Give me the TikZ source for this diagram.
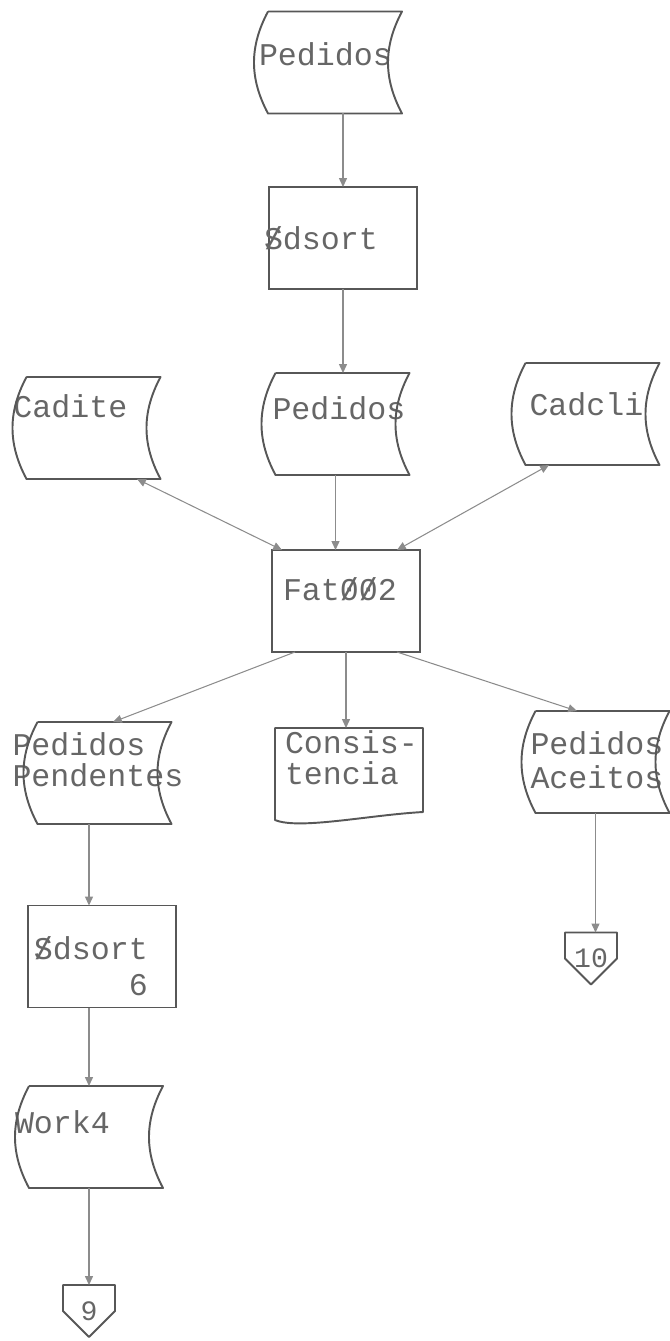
\documentclass[tikz,border=0pt]{standalone}
\usepackage{fontspec}
\newfontfamily\tw{Liberation Mono}
\usepackage{tikz}
\usetikzlibrary{arrows.meta,calc}

\definecolor{inkline}{HTML}{575757}
\definecolor{pencil}{HTML}{8C8C8C}
\definecolor{typed}{HTML}{666666}

% typed text, pushed to the upper left of a box
\newcommand{\inbox}[3][0.1cm]{\parbox[c][2.04cm][t]{2.96cm}{\raggedright\leftskip=#1\relax\hyphenpenalty=10000 \vspace*{#2}#3}}
\newcommand{\slS}{\leavevmode\rlap{/}S}
\newcommand{\slz}{\leavevmode\rlap{/}0}

\begin{document}
\begin{tikzpicture}[>={Triangle[length=5pt,width=4.5pt]},
  datafile/.style={minimum width=2.96cm,minimum height=2.04cm,inner sep=0pt,outer sep=0pt,
    text=typed,font=\tw\fontsize{18}{17.5}\selectfont},
  procbox/.style={datafile,draw=inkline,line width=1.1pt},
  report/.style={datafile},
  pageref/.style={datafile,minimum width=1.04cm,minimum height=1.04cm,font=\tw\fontsize{16}{16}\selectfont},
  edgeline/.style={draw=inkline,line width=1.1pt,line join=round},
  flowline/.style={color=pencil,line width=0.6pt,->},
  twoway/.style={flowline,<->}]

\useasboundingbox (0,0) rectangle (13.4,-26.82);

\node[datafile](ped1) at (6.56,-1.25) {\inbox{0.62cm}{Pedidos}};
\node[procbox](sdsort) at (6.86,-4.76) {\inbox[-0.1cm]{0.8cm}{\slS dsort}};
\node[datafile](cadite) at (1.73,-8.56) {\inbox[0.02cm]{0.36cm}{Cadite}};
\node[datafile](ped2) at (6.71,-8.48) {\inbox[0.22cm]{0.48cm}{Pedidos}};
\node[datafile](cadcli) at (11.71,-8.28) {\inbox[0.36cm]{0.6cm}{Cadcli}};
\node[procbox](fat) at (6.92,-12.02) {\inbox[0.22cm]{0.55cm}{Fat\slz\slz2}};
\node[datafile](pend) at (1.95,-15.46) {\inbox[-0.22cm]{0.22cm}{Pedidos\\Pendentes}};
\node[report](consis) at (6.98,-15.58) {\inbox[0.2cm]{0.06cm}{Consis-\\tencia}};
\node[datafile](aceit) at (11.91,-15.24) {\inbox[0.18cm]{0.42cm}{Pedidos\\[0.06cm]Aceitos}};
\node[procbox](sd6) at (2.04,-19.13) {\inbox[0.12cm]{0.62cm}{\slS dsort\\[0.1cm]\hspace*{3em}6}};
\node[datafile](work) at (1.78,-22.74) {\inbox[0cm]{0.5cm}{Work4}};
\node[pageref](c9) at (1.78,-26.22) {9};
\node[pageref](c10) at (11.82,-19.17) {10};

% file outlines
\foreach \n in {ped1,cadite,ped2,cadcli,pend,aceit,work}
  \draw[edgeline] ($(\n.north west)+(0.28,0)$) -- (\n.north east)
    to[bend right=28] (\n.south east) -- ($(\n.south west)+(0.28,0)$)
    to[bend left=28] ($(\n.north west)+(0.28,0)$);

\draw[edgeline] (consis.north west) -- (consis.north east) -- ($(consis.south east)+(0,0.36)$)
  .. controls ($(consis.south)+(0.4,0.3)$) and ($(consis.south)+(-1.0,0.0)$) .. ($(consis.south west)+(0,0.2)$) -- cycle;

\foreach \n in {c9,c10}
  \draw[edgeline] (\n.north west) -- (\n.north east) -- (\n.east) -- (\n.south) -- (\n.west) -- cycle;

\path[flowline]
(ped1.south -| sdsort.north) edge (sdsort.north)
(sdsort.south) edge (sdsort.south |- ped2.north)
(ped2.south) edge (ped2.south |- fat.north)
(fat.south) edge (fat.south |- consis.north)
([xshift=-1.02cm]fat.south) edge ([xshift=0.31cm]pend.north)
([xshift=1.02cm]fat.south) edge ([xshift=-0.37cm]aceit.north)
(pend.south -| work) edge (sd6.north -| work)
(sd6.south -| work) edge (work.north)
(work.south) edge (c9.north)
(aceit.south) edge (aceit.south |- c10.north);

\path[twoway]
([xshift=1.01cm]cadite.south) edge ([xshift=-1.28cm]fat.north)
([xshift=-0.73cm]cadcli.south) edge ([xshift=1.02cm]fat.north);

\end{tikzpicture}
\end{document}
